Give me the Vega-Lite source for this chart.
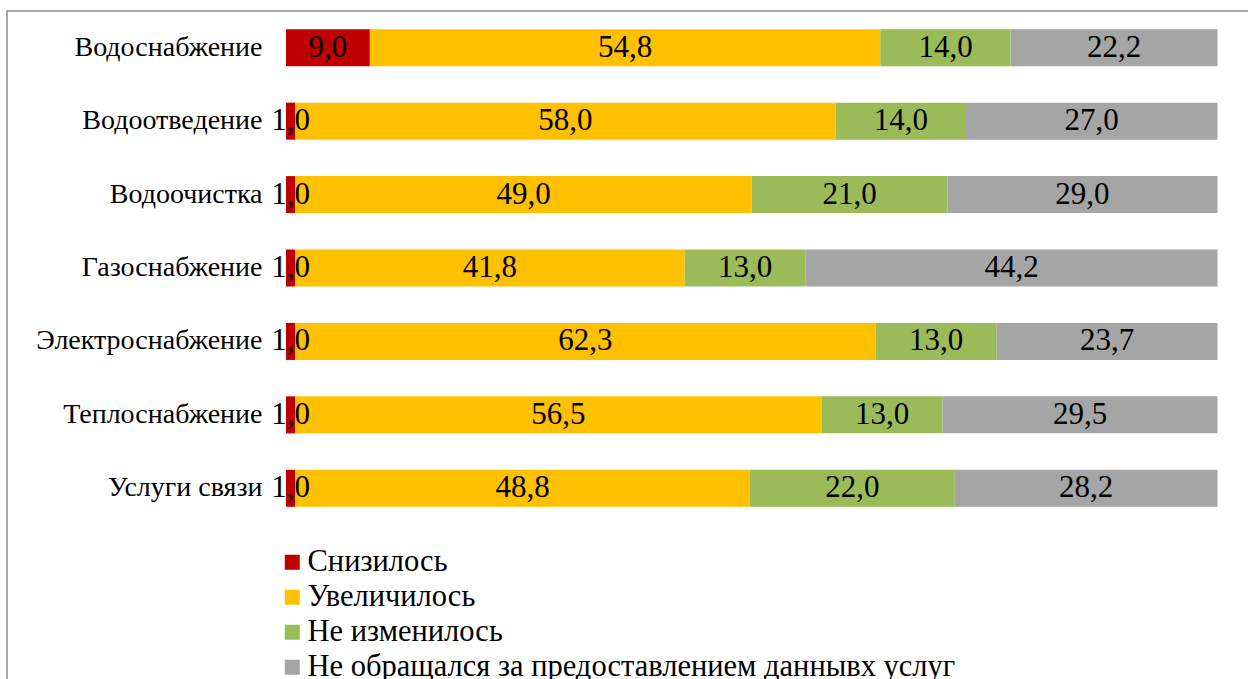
{
  "$schema": "https://vega.github.io/schema/vega-lite/v6.json",
  "width": 1251,
  "height": 700,
  "autosize": {"type": "none"},
  "padding": {"left": 7, "top": 11, "right": 0, "bottom": 0},
  "background": "white",
  "config": {
    "view": {"stroke": "#8c8c8c", "strokeWidth": 1.5},
    "font": "Liberation Serif"
  },
  "data": {
    "values": [
      {"c": "Водоснабжение", "s": "Снизилось", "v": 9.0},
      {"c": "Водоснабжение", "s": "Увеличилось", "v": 54.8},
      {"c": "Водоснабжение", "s": "Не изменилось", "v": 14.0},
      {"c": "Водоснабжение", "s": "Не обращался за предоставлением даннывх услуг", "v": 22.2},
      {"c": "Водоотведение", "s": "Снизилось", "v": 1.0},
      {"c": "Водоотведение", "s": "Увеличилось", "v": 58.0},
      {"c": "Водоотведение", "s": "Не изменилось", "v": 14.0},
      {"c": "Водоотведение", "s": "Не обращался за предоставлением даннывх услуг", "v": 27.0},
      {"c": "Водоочистка", "s": "Снизилось", "v": 1.0},
      {"c": "Водоочистка", "s": "Увеличилось", "v": 49.0},
      {"c": "Водоочистка", "s": "Не изменилось", "v": 21.0},
      {"c": "Водоочистка", "s": "Не обращался за предоставлением даннывх услуг", "v": 29.0},
      {"c": "Газоснабжение", "s": "Снизилось", "v": 1.0},
      {"c": "Газоснабжение", "s": "Увеличилось", "v": 41.8},
      {"c": "Газоснабжение", "s": "Не изменилось", "v": 13.0},
      {"c": "Газоснабжение", "s": "Не обращался за предоставлением даннывх услуг", "v": 44.2},
      {"c": "Электроснабжение", "s": "Снизилось", "v": 1.0},
      {"c": "Электроснабжение", "s": "Увеличилось", "v": 62.3},
      {"c": "Электроснабжение", "s": "Не изменилось", "v": 13.0},
      {"c": "Электроснабжение", "s": "Не обращался за предоставлением даннывх услуг", "v": 23.7},
      {"c": "Теплоснабжение", "s": "Снизилось", "v": 1.0},
      {"c": "Теплоснабжение", "s": "Увеличилось", "v": 56.5},
      {"c": "Теплоснабжение", "s": "Не изменилось", "v": 13.0},
      {"c": "Теплоснабжение", "s": "Не обращался за предоставлением даннывх услуг", "v": 29.5},
      {"c": "Услуги связи", "s": "Снизилось", "v": 1.0},
      {"c": "Услуги связи", "s": "Увеличилось", "v": 48.8},
      {"c": "Услуги связи", "s": "Не изменилось", "v": 22.0},
      {"c": "Услуги связи", "s": "Не обращался за предоставлением даннывх услуг", "v": 28.2}
    ]
  },
  "transform": [
    {"calculate": "indexof(['Снизилось','Увеличилось','Не изменилось','Не обращался за предоставлением даннывх услуг'], datum.s)", "as": "ord"},
    {"stack": "v", "groupby": ["c"], "sort": [{"field": "ord"}], "as": ["v0", "v1"]},
    {"calculate": "(datum.v0 + datum.v1) / 2", "as": "mid"},
    {"calculate": "replace(format(datum.v, '.1f'), '.', ',')", "as": "lbl"}
  ],
  "encoding": {
    "y": {
      "field": "c",
      "type": "nominal",
      "sort": ["Водоснабжение", "Водоотведение", "Водоочистка", "Газоснабжение", "Электроснабжение", "Теплоснабжение", "Услуги связи"],
      "scale": {"range": [0, 514], "paddingInner": 0.496, "paddingOuter": 0.248},
      "axis": {
        "title": null,
        "offset": -279,
        "domain": false,
        "ticks": false,
        "labelPadding": 24,
        "labelFont": "Liberation Serif",
        "labelFontSize": 28,
        "labelColor": "black",
        "labelLimit": 400
      }
    }
  },
  "layer": [
    {
      "mark": {"type": "bar"},
      "encoding": {
        "x": {"field": "v0", "type": "quantitative", "scale": {"domain": [0, 100], "range": [279, 1210.5]}, "axis": null},
        "x2": {"field": "v1"},
        "color": {
          "field": "s",
          "type": "nominal",
          "scale": {
            "domain": ["Снизилось", "Увеличилось", "Не изменилось", "Не обращался за предоставлением даннывх услуг"],
            "range": ["#C00000", "#FFC000", "#9BBB59", "#A5A5A5"]
          },
          "legend": {
            "title": null,
            "orient": "none",
            "legendX": 270,
            "legendY": 536,
            "padding": 0,
            "symbolType": "square",
            "symbolSize": 225,
            "symbolStrokeWidth": 0,
            "labelFont": "Liberation Serif",
            "labelFontSize": 30.5,
            "labelColor": "black",
            "labelOffset": 0,
            "labelLimit": 1000,
            "rowPadding": 4
          }
        }
      }
    },
    {
      "mark": {"type": "text", "fontSize": 31, "baseline": "middle", "color": "black", "font": "Liberation Serif"},
      "encoding": {
        "x": {"field": "mid", "type": "quantitative"},
        "text": {"field": "lbl"}
      }
    }
  ]
}
